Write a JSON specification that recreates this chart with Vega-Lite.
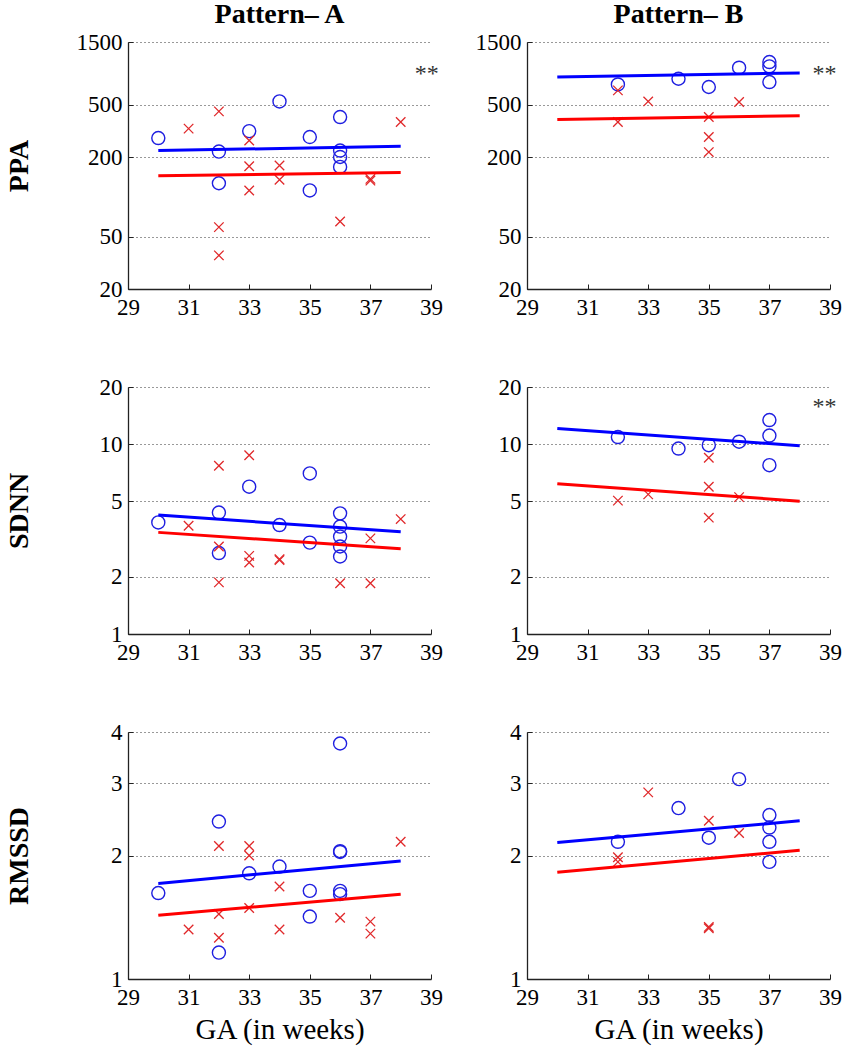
{
  "$schema": "https://vega.github.io/schema/vega-lite/v6.json",
  "background": "white",
  "padding": {"left": 4, "top": 1, "right": 5, "bottom": 5},
  "data": {"values": [
    {"m":"PPA","p":"A","k":"o","ga":30,"v":280},{"m":"PPA","p":"A","k":"o","ga":32,"v":221},{"m":"PPA","p":"A","k":"o","ga":32,"v":127},{"m":"PPA","p":"A","k":"o","ga":33,"v":316},{"m":"PPA","p":"A","k":"o","ga":34,"v":531},{"m":"PPA","p":"A","k":"o","ga":35,"v":285},{"m":"PPA","p":"A","k":"o","ga":35,"v":112},{"m":"PPA","p":"A","k":"o","ga":36,"v":404},{"m":"PPA","p":"A","k":"o","ga":36,"v":225},{"m":"PPA","p":"A","k":"o","ga":36,"v":201},{"m":"PPA","p":"A","k":"o","ga":36,"v":169},
    {"m":"PPA","p":"A","k":"x","ga":31,"v":330},{"m":"PPA","p":"A","k":"x","ga":32,"v":446},{"m":"PPA","p":"A","k":"x","ga":32,"v":59},{"m":"PPA","p":"A","k":"x","ga":32,"v":36},{"m":"PPA","p":"A","k":"x","ga":33,"v":268},{"m":"PPA","p":"A","k":"x","ga":33,"v":171},{"m":"PPA","p":"A","k":"x","ga":33,"v":112},{"m":"PPA","p":"A","k":"x","ga":34,"v":173},{"m":"PPA","p":"A","k":"x","ga":34,"v":135},{"m":"PPA","p":"A","k":"x","ga":36,"v":65},{"m":"PPA","p":"A","k":"x","ga":37,"v":137},{"m":"PPA","p":"A","k":"x","ga":37,"v":133},{"m":"PPA","p":"A","k":"x","ga":38,"v":370},
    {"m":"PPA","p":"A","k":"fb","ga":30,"v":225},{"m":"PPA","p":"A","k":"fb","ga":38,"v":242},
    {"m":"PPA","p":"A","k":"fr","ga":30,"v":145},{"m":"PPA","p":"A","k":"fr","ga":38,"v":153},
    {"m":"PPA","p":"A","k":"s","ga":38.86,"v":940},

    {"m":"PPA","p":"B","k":"o","ga":32,"v":714},{"m":"PPA","p":"B","k":"o","ga":34,"v":789},{"m":"PPA","p":"B","k":"o","ga":35,"v":683},{"m":"PPA","p":"B","k":"o","ga":36,"v":957},{"m":"PPA","p":"B","k":"o","ga":37,"v":1057},{"m":"PPA","p":"B","k":"o","ga":37,"v":979},{"m":"PPA","p":"B","k":"o","ga":37,"v":745},
    {"m":"PPA","p":"B","k":"x","ga":32,"v":644},{"m":"PPA","p":"B","k":"x","ga":32,"v":370},{"m":"PPA","p":"B","k":"x","ga":33,"v":531},{"m":"PPA","p":"B","k":"x","ga":35,"v":404},{"m":"PPA","p":"B","k":"x","ga":35,"v":285},{"m":"PPA","p":"B","k":"x","ga":35,"v":219},{"m":"PPA","p":"B","k":"x","ga":36,"v":525},
    {"m":"PPA","p":"B","k":"fb","ga":30,"v":813},{"m":"PPA","p":"B","k":"fb","ga":38,"v":873},
    {"m":"PPA","p":"B","k":"fr","ga":30,"v":387},{"m":"PPA","p":"B","k":"fr","ga":38,"v":413},
    {"m":"PPA","p":"B","k":"s","ga":38.82,"v":940},

    {"m":"SDNN","p":"A","k":"o","ga":30,"v":3.87},{"m":"SDNN","p":"A","k":"o","ga":32,"v":4.36},{"m":"SDNN","p":"A","k":"o","ga":32,"v":2.67},{"m":"SDNN","p":"A","k":"o","ga":33,"v":5.97},{"m":"SDNN","p":"A","k":"o","ga":34,"v":3.75},{"m":"SDNN","p":"A","k":"o","ga":35,"v":7.01},{"m":"SDNN","p":"A","k":"o","ga":35,"v":3.03},{"m":"SDNN","p":"A","k":"o","ga":36,"v":4.32},{"m":"SDNN","p":"A","k":"o","ga":36,"v":3.68},{"m":"SDNN","p":"A","k":"o","ga":36,"v":3.26},{"m":"SDNN","p":"A","k":"o","ga":36,"v":2.89},{"m":"SDNN","p":"A","k":"o","ga":36,"v":2.56},
    {"m":"SDNN","p":"A","k":"x","ga":31,"v":3.72},{"m":"SDNN","p":"A","k":"x","ga":32,"v":7.69},{"m":"SDNN","p":"A","k":"x","ga":32,"v":2.89},{"m":"SDNN","p":"A","k":"x","ga":32,"v":1.87},{"m":"SDNN","p":"A","k":"x","ga":33,"v":8.74},{"m":"SDNN","p":"A","k":"x","ga":33,"v":2.58},{"m":"SDNN","p":"A","k":"x","ga":33,"v":2.38},{"m":"SDNN","p":"A","k":"x","ga":34,"v":2.48},{"m":"SDNN","p":"A","k":"x","ga":34,"v":2.45},{"m":"SDNN","p":"A","k":"x","ga":36,"v":1.85},{"m":"SDNN","p":"A","k":"x","ga":37,"v":3.19},{"m":"SDNN","p":"A","k":"x","ga":37,"v":1.85},{"m":"SDNN","p":"A","k":"x","ga":38,"v":4.03},
    {"m":"SDNN","p":"A","k":"fb","ga":30,"v":4.23},{"m":"SDNN","p":"A","k":"fb","ga":38,"v":3.46},
    {"m":"SDNN","p":"A","k":"fr","ga":30,"v":3.43},{"m":"SDNN","p":"A","k":"fr","ga":38,"v":2.81},

    {"m":"SDNN","p":"B","k":"o","ga":32,"v":10.9},{"m":"SDNN","p":"B","k":"o","ga":34,"v":9.48},{"m":"SDNN","p":"B","k":"o","ga":35,"v":9.87},{"m":"SDNN","p":"B","k":"o","ga":36,"v":10.3},{"m":"SDNN","p":"B","k":"o","ga":37,"v":13.4},{"m":"SDNN","p":"B","k":"o","ga":37,"v":11.1},{"m":"SDNN","p":"B","k":"o","ga":37,"v":7.75},
    {"m":"SDNN","p":"B","k":"x","ga":32,"v":5.04},{"m":"SDNN","p":"B","k":"x","ga":33,"v":5.44},{"m":"SDNN","p":"B","k":"x","ga":35,"v":8.48},{"m":"SDNN","p":"B","k":"x","ga":35,"v":5.97},{"m":"SDNN","p":"B","k":"x","ga":35,"v":4.1},{"m":"SDNN","p":"B","k":"x","ga":36,"v":5.26},
    {"m":"SDNN","p":"B","k":"fb","ga":30,"v":12.1},{"m":"SDNN","p":"B","k":"fb","ga":38,"v":9.8},
    {"m":"SDNN","p":"B","k":"fr","ga":30,"v":6.19},{"m":"SDNN","p":"B","k":"fr","ga":38,"v":5.01},
    {"m":"SDNN","p":"B","k":"s","ga":38.82,"v":16.7},

    {"m":"RMSSD","p":"A","k":"o","ga":30,"v":1.62},{"m":"RMSSD","p":"A","k":"o","ga":32,"v":2.42},{"m":"RMSSD","p":"A","k":"o","ga":32,"v":1.16},{"m":"RMSSD","p":"A","k":"o","ga":33,"v":1.81},{"m":"RMSSD","p":"A","k":"o","ga":34,"v":1.88},{"m":"RMSSD","p":"A","k":"o","ga":35,"v":1.64},{"m":"RMSSD","p":"A","k":"o","ga":35,"v":1.42},{"m":"RMSSD","p":"A","k":"o","ga":36,"v":3.75},{"m":"RMSSD","p":"A","k":"o","ga":36,"v":2.05},{"m":"RMSSD","p":"A","k":"o","ga":36,"v":2.04},{"m":"RMSSD","p":"A","k":"o","ga":36,"v":1.64},{"m":"RMSSD","p":"A","k":"o","ga":36,"v":1.61},
    {"m":"RMSSD","p":"A","k":"x","ga":31,"v":1.32},{"m":"RMSSD","p":"A","k":"x","ga":32,"v":2.11},{"m":"RMSSD","p":"A","k":"x","ga":32,"v":1.44},{"m":"RMSSD","p":"A","k":"x","ga":32,"v":1.26},{"m":"RMSSD","p":"A","k":"x","ga":33,"v":2.11},{"m":"RMSSD","p":"A","k":"x","ga":33,"v":2.0},{"m":"RMSSD","p":"A","k":"x","ga":33,"v":1.49},{"m":"RMSSD","p":"A","k":"x","ga":34,"v":1.68},{"m":"RMSSD","p":"A","k":"x","ga":34,"v":1.32},{"m":"RMSSD","p":"A","k":"x","ga":36,"v":1.41},{"m":"RMSSD","p":"A","k":"x","ga":37,"v":1.38},{"m":"RMSSD","p":"A","k":"x","ga":37,"v":1.29},{"m":"RMSSD","p":"A","k":"x","ga":38,"v":2.16},
    {"m":"RMSSD","p":"A","k":"fb","ga":30,"v":1.71},{"m":"RMSSD","p":"A","k":"fb","ga":38,"v":1.94},
    {"m":"RMSSD","p":"A","k":"fr","ga":30,"v":1.43},{"m":"RMSSD","p":"A","k":"fr","ga":38,"v":1.61},

    {"m":"RMSSD","p":"B","k":"o","ga":32,"v":2.16},{"m":"RMSSD","p":"B","k":"o","ga":34,"v":2.61},{"m":"RMSSD","p":"B","k":"o","ga":35,"v":2.21},{"m":"RMSSD","p":"B","k":"o","ga":36,"v":3.07},{"m":"RMSSD","p":"B","k":"o","ga":37,"v":2.51},{"m":"RMSSD","p":"B","k":"o","ga":37,"v":2.34},{"m":"RMSSD","p":"B","k":"o","ga":37,"v":2.16},{"m":"RMSSD","p":"B","k":"o","ga":37,"v":1.93},
    {"m":"RMSSD","p":"B","k":"x","ga":32,"v":1.98},{"m":"RMSSD","p":"B","k":"x","ga":32,"v":1.93},{"m":"RMSSD","p":"B","k":"x","ga":33,"v":2.85},{"m":"RMSSD","p":"B","k":"x","ga":35,"v":2.43},{"m":"RMSSD","p":"B","k":"x","ga":35,"v":1.34},{"m":"RMSSD","p":"B","k":"x","ga":35,"v":1.33},{"m":"RMSSD","p":"B","k":"x","ga":36,"v":2.27},
    {"m":"RMSSD","p":"B","k":"fb","ga":30,"v":2.15},{"m":"RMSSD","p":"B","k":"fb","ga":38,"v":2.43},
    {"m":"RMSSD","p":"B","k":"fr","ga":30,"v":1.82},{"m":"RMSSD","p":"B","k":"fr","ga":38,"v":2.06}
  ]},
  "columns": 2,
  "spacing": {"row": 98, "column": 96},
  "bounds": "flush",
  "concat": [
      {"title": "Pattern– A", "width": 303, "height": 247,
       "transform": [{"filter": "datum.m==='PPA' && datum.p==='A'"}],
       "encoding": {
         "x": {"field": "ga", "type": "quantitative", "scale": {"domain": [29, 39], "nice": false, "zero": false}, "axis": {"values": [29,31,33,35,37,39], "title": null}},
         "y": {"field": "v", "type": "quantitative", "scale": {"type": "log", "domain": [20, 1500], "nice": false}, "axis": {"values": [20,50,200,500,1500], "format": "d", "title": "PPA"}}
       },
       "layer": [
         {"transform": [{"filter": "datum.k==='o'"}], "mark": {"type": "point", "shape": "circle", "filled": false, "color": "#1f1fe0", "strokeWidth": 1.4, "size": 170, "opacity": 1}},
         {"transform": [{"filter": "datum.k==='x'"}], "mark": {"type": "point", "shape": "M-1,-1L1,1M-1,1L1,-1", "filled": false, "color": "#e0282a", "strokeWidth": 1.3, "size": 90, "opacity": 1}},
         {"transform": [{"filter": "datum.k==='fb'"}], "mark": {"type": "line", "color": "#0000ff", "strokeWidth": 3}, "encoding": {}},
         {"transform": [{"filter": "datum.k==='fr'"}], "mark": {"type": "line", "color": "#ff0000", "strokeWidth": 3}, "encoding": {}},
         {"transform": [{"filter": "datum.k==='s'"}], "mark": {"type": "text", "text": "**", "fontSize": 24, "color": "#333", "dy": 5, "font": "Liberation Serif"}}
       ]},
      {"title": "Pattern– B", "width": 303, "height": 247,
       "transform": [{"filter": "datum.m==='PPA' && datum.p==='B'"}],
       "encoding": {
         "x": {"field": "ga", "type": "quantitative", "scale": {"domain": [29, 39], "nice": false, "zero": false}, "axis": {"values": [29,31,33,35,37,39], "title": null}},
         "y": {"field": "v", "type": "quantitative", "scale": {"type": "log", "domain": [20, 1500], "nice": false}, "axis": {"values": [20,50,200,500,1500], "format": "d", "title": null}}
       },
       "layer": [
         {"transform": [{"filter": "datum.k==='o'"}], "mark": {"type": "point", "shape": "circle", "filled": false, "color": "#1f1fe0", "strokeWidth": 1.4, "size": 170, "opacity": 1}},
         {"transform": [{"filter": "datum.k==='x'"}], "mark": {"type": "point", "shape": "M-1,-1L1,1M-1,1L1,-1", "filled": false, "color": "#e0282a", "strokeWidth": 1.3, "size": 90, "opacity": 1}},
         {"transform": [{"filter": "datum.k==='fb'"}], "mark": {"type": "line", "color": "#0000ff", "strokeWidth": 3}, "encoding": {}},
         {"transform": [{"filter": "datum.k==='fr'"}], "mark": {"type": "line", "color": "#ff0000", "strokeWidth": 3}, "encoding": {}},
         {"transform": [{"filter": "datum.k==='s'"}], "mark": {"type": "text", "text": "**", "fontSize": 24, "color": "#333", "dy": 5, "font": "Liberation Serif"}}
       ]},
      {"width": 303, "height": 247,
       "transform": [{"filter": "datum.m==='SDNN' && datum.p==='A'"}],
       "encoding": {
         "x": {"field": "ga", "type": "quantitative", "scale": {"domain": [29, 39], "nice": false, "zero": false}, "axis": {"values": [29,31,33,35,37,39], "title": null}},
         "y": {"field": "v", "type": "quantitative", "scale": {"type": "log", "domain": [1, 20], "nice": false}, "axis": {"values": [1,2,5,10,20], "format": "d", "title": "SDNN"}}
       },
       "layer": [
         {"transform": [{"filter": "datum.k==='o'"}], "mark": {"type": "point", "shape": "circle", "filled": false, "color": "#1f1fe0", "strokeWidth": 1.4, "size": 170, "opacity": 1}},
         {"transform": [{"filter": "datum.k==='x'"}], "mark": {"type": "point", "shape": "M-1,-1L1,1M-1,1L1,-1", "filled": false, "color": "#e0282a", "strokeWidth": 1.3, "size": 90, "opacity": 1}},
         {"transform": [{"filter": "datum.k==='fb'"}], "mark": {"type": "line", "color": "#0000ff", "strokeWidth": 3}, "encoding": {}},
         {"transform": [{"filter": "datum.k==='fr'"}], "mark": {"type": "line", "color": "#ff0000", "strokeWidth": 3}, "encoding": {}}
       ]},
      {"width": 303, "height": 247,
       "transform": [{"filter": "datum.m==='SDNN' && datum.p==='B'"}],
       "encoding": {
         "x": {"field": "ga", "type": "quantitative", "scale": {"domain": [29, 39], "nice": false, "zero": false}, "axis": {"values": [29,31,33,35,37,39], "title": null}},
         "y": {"field": "v", "type": "quantitative", "scale": {"type": "log", "domain": [1, 20], "nice": false}, "axis": {"values": [1,2,5,10,20], "format": "d", "title": null}}
       },
       "layer": [
         {"transform": [{"filter": "datum.k==='o'"}], "mark": {"type": "point", "shape": "circle", "filled": false, "color": "#1f1fe0", "strokeWidth": 1.4, "size": 170, "opacity": 1}},
         {"transform": [{"filter": "datum.k==='x'"}], "mark": {"type": "point", "shape": "M-1,-1L1,1M-1,1L1,-1", "filled": false, "color": "#e0282a", "strokeWidth": 1.3, "size": 90, "opacity": 1}},
         {"transform": [{"filter": "datum.k==='fb'"}], "mark": {"type": "line", "color": "#0000ff", "strokeWidth": 3}, "encoding": {}},
         {"transform": [{"filter": "datum.k==='fr'"}], "mark": {"type": "line", "color": "#ff0000", "strokeWidth": 3}, "encoding": {}},
         {"transform": [{"filter": "datum.k==='s'"}], "mark": {"type": "text", "text": "**", "fontSize": 24, "color": "#333", "dy": 5, "font": "Liberation Serif"}}
       ]},
      {"width": 303, "height": 247,
       "transform": [{"filter": "datum.m==='RMSSD' && datum.p==='A'"}],
       "encoding": {
         "x": {"field": "ga", "type": "quantitative", "scale": {"domain": [29, 39], "nice": false, "zero": false}, "axis": {"values": [29,31,33,35,37,39], "title": "GA (in weeks)"}},
         "y": {"field": "v", "type": "quantitative", "scale": {"type": "log", "domain": [1, 4], "nice": false}, "axis": {"values": [1,2,3,4], "format": "d", "title": "RMSSD"}}
       },
       "layer": [
         {"transform": [{"filter": "datum.k==='o'"}], "mark": {"type": "point", "shape": "circle", "filled": false, "color": "#1f1fe0", "strokeWidth": 1.4, "size": 170, "opacity": 1}},
         {"transform": [{"filter": "datum.k==='x'"}], "mark": {"type": "point", "shape": "M-1,-1L1,1M-1,1L1,-1", "filled": false, "color": "#e0282a", "strokeWidth": 1.3, "size": 90, "opacity": 1}},
         {"transform": [{"filter": "datum.k==='fb'"}], "mark": {"type": "line", "color": "#0000ff", "strokeWidth": 3}, "encoding": {}},
         {"transform": [{"filter": "datum.k==='fr'"}], "mark": {"type": "line", "color": "#ff0000", "strokeWidth": 3}, "encoding": {}}
       ]},
      {"width": 303, "height": 247,
       "transform": [{"filter": "datum.m==='RMSSD' && datum.p==='B'"}],
       "encoding": {
         "x": {"field": "ga", "type": "quantitative", "scale": {"domain": [29, 39], "nice": false, "zero": false}, "axis": {"values": [29,31,33,35,37,39], "title": "GA (in weeks)"}},
         "y": {"field": "v", "type": "quantitative", "scale": {"type": "log", "domain": [1, 4], "nice": false}, "axis": {"values": [1,2,3,4], "format": "d", "title": null}}
       },
       "layer": [
         {"transform": [{"filter": "datum.k==='o'"}], "mark": {"type": "point", "shape": "circle", "filled": false, "color": "#1f1fe0", "strokeWidth": 1.4, "size": 170, "opacity": 1}},
         {"transform": [{"filter": "datum.k==='x'"}], "mark": {"type": "point", "shape": "M-1,-1L1,1M-1,1L1,-1", "filled": false, "color": "#e0282a", "strokeWidth": 1.3, "size": 90, "opacity": 1}},
         {"transform": [{"filter": "datum.k==='fb'"}], "mark": {"type": "line", "color": "#0000ff", "strokeWidth": 3}, "encoding": {}},
         {"transform": [{"filter": "datum.k==='fr'"}], "mark": {"type": "line", "color": "#ff0000", "strokeWidth": 3}, "encoding": {}}
       ]}
  ],
  "config": {
    "view": {"stroke": null},
    "font": "Liberation Serif",
    "axis": {"labelFont": "Liberation Serif", "labelFontSize": 23, "labelColor": "#000", "domainColor": "#222", "domainWidth": 1.3, "tickColor": "#222", "tickSize": -5, "tickWidth": 1, "labelFlush": false, "labelOverlap": false, "grid": false, "titleFont": "Liberation Serif", "titleColor": "#000"},
    "axisY": {"grid": true, "gridDash": [1, 3], "gridColor": "#333", "gridWidth": 1, "labelPadding": 11, "titleFontSize": 28, "titleFontWeight": "bold", "titleAngle": -90, "titleX": -101, "titleY": 123.5, "titleBaseline": "alphabetic", "titleAlign": "center"},
    "axisX": {"labelPadding": 12, "titleFontSize": 29, "titleFontWeight": "normal", "titleY": 59, "titleBaseline": "alphabetic"},
    "title": {"font": "Liberation Serif", "fontSize": 28, "fontWeight": "bold", "color": "#000", "baseline": "alphabetic", "offset": 2, "frame": "group", "anchor": "middle"}
  }
}
